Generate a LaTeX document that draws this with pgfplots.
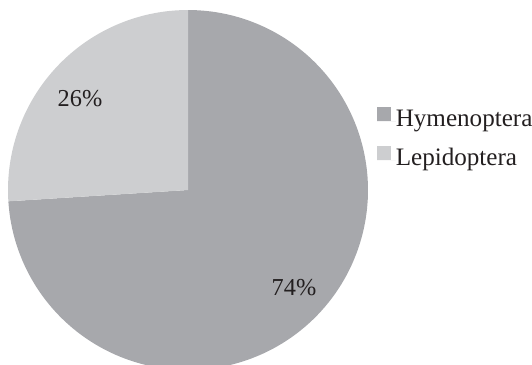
\documentclass[border=0pt]{standalone}
\usepackage{pgfplots}
\usepackage{pgfplotstable}
\usepackage{fontspec}
\setmainfont{Liberation Serif}
\pgfplotsset{compat=1.18}
\definecolor{hym}{HTML}{A7A8AC}
\definecolor{lep}{HTML}{CDCED0}
\definecolor{txt}{HTML}{231F20}
\pgfplotstableread{
name value
Hymenoptera 74
Lepidoptera 26
}\piedata
\pgfplotstablegetelem{0}{value}\of\piedata \let\vA\pgfplotsretval
\pgfplotstablegetelem{1}{value}\of\piedata \let\vB\pgfplotsretval
\pgfmathsetmacro\aA{90-3.6*\vA}
\pgfmathsetmacro\aB{\aA-3.6*\vB}
\begin{document}
\begin{tikzpicture}
\begin{axis}[
  x=0.5bp, y=0.5bp,
  xmin=-188, xmax=344, ymin=-174, ymax=190,
  hide axis, clip=true,
  legend cell align=left,
  legend style={draw=none, fill=none, at={(axis cs:189,83)}, anchor=north west,
    inner sep=0pt, outer sep=0pt, row sep=7bp, column sep=0pt,
    font=\fontsize{12.6}{14}\selectfont, text=txt,
    nodes={inner sep=0pt, text height=9bp, text depth=3bp}},
  legend image code/.code={%
    \path[#1] (0bp,-0.6bp) rectangle (7.1bp,6.5bp);
    \path (0bp,-0.6bp) -- (9.4bp,-0.6bp);},
]
\addplot[fill=hym, draw=none, data cs=polar, domain=90:\aA, samples=150]
  ({x},{180}) -- (axis cs:0,0) -- cycle;
\addlegendentry{Hymenoptera}
\addplot[fill=lep, draw=none, data cs=polar, domain=\aA:\aB, samples=80]
  ({x},{180}) -- (axis cs:0,0) -- cycle;
\addlegendentry{Lepidoptera}
\node[anchor=base, text=txt, font=\fontsize{12.2}{14}\selectfont] at (axis cs:-108,84) {26\%};
\node[anchor=base, text=txt, font=\fontsize{12.2}{14}\selectfont] at (axis cs:106,-105) {74\%};
\end{axis}
\pgfresetboundingbox
\path[use as bounding box] (current axis.south west) rectangle (current axis.north east);
\end{tikzpicture}
\end{document}
